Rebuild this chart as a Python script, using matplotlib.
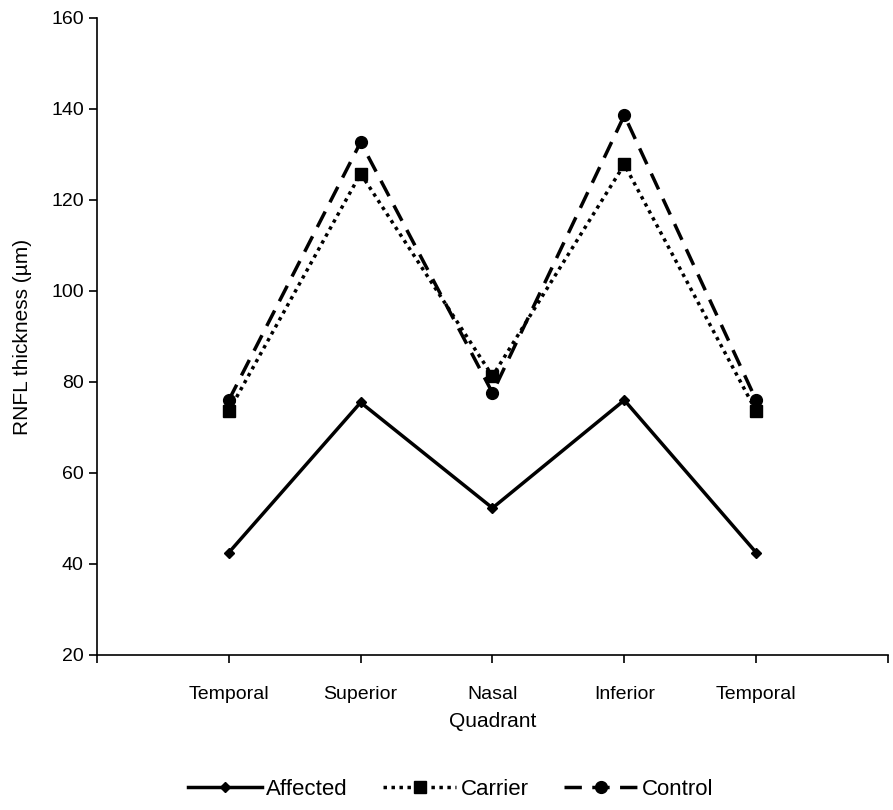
import matplotlib.pyplot as plt

plt.rcParams['font.family'] = ['Liberation Sans', 'DejaVu Sans']

quadrants = ['Temporal', 'Superior', 'Nasal', 'Inferior', 'Temporal']
affected = [42.5, 75.5, 52.3, 76.0, 42.5]
carrier = [73.6, 125.8, 81.3, 127.8, 73.6]
control = [76.0, 132.7, 77.6, 138.6, 76.0]

x = list(range(1, len(quadrants) + 1))

fig = plt.figure(figsize=(8.93, 8.10), dpi=100)
ax = fig.add_axes([0.1086, 0.1914, 0.8858, 0.7864])

ax.plot(x, affected, color='black', lw=2.5, marker='D', ms=5, label='Affected')
ax.plot(x, carrier, color='black', lw=2.5, ls=(0, (1, 1.3)), marker='s', ms=8.5, label='Carrier')
ax.plot(x, control, color='black', lw=2.5, ls=(0, (5, 3)), marker='o', ms=8.5, label='Control')

ax.set_xlim(0, 6)
ax.set_ylim(20, 160)
ax.set_yticks(range(20, 161, 20))
ax.set_xticks(range(0, 7))
ax.set_xticklabels([''] + quadrants + [''])
ax.tick_params(axis='both', length=6, width=1.2, labelsize=14)
ax.tick_params(axis='x', pad=16)

for s in ['top', 'right']:
    ax.spines[s].set_visible(False)
for s in ['left', 'bottom']:
    ax.spines[s].set_linewidth(1.2)

ax.set_xlabel('Quadrant', fontsize=15, labelpad=7)
ax.set_ylabel('RNFL thickness (µm)', fontsize=15, labelpad=14)

fig.legend(loc='center', bbox_to_anchor=(0.505, 0.025), ncol=3, frameon=False,
           fontsize=16, handlelength=3.3, columnspacing=1.6, handletextpad=0.2)

fig.savefig('out.png', dpi=100)
